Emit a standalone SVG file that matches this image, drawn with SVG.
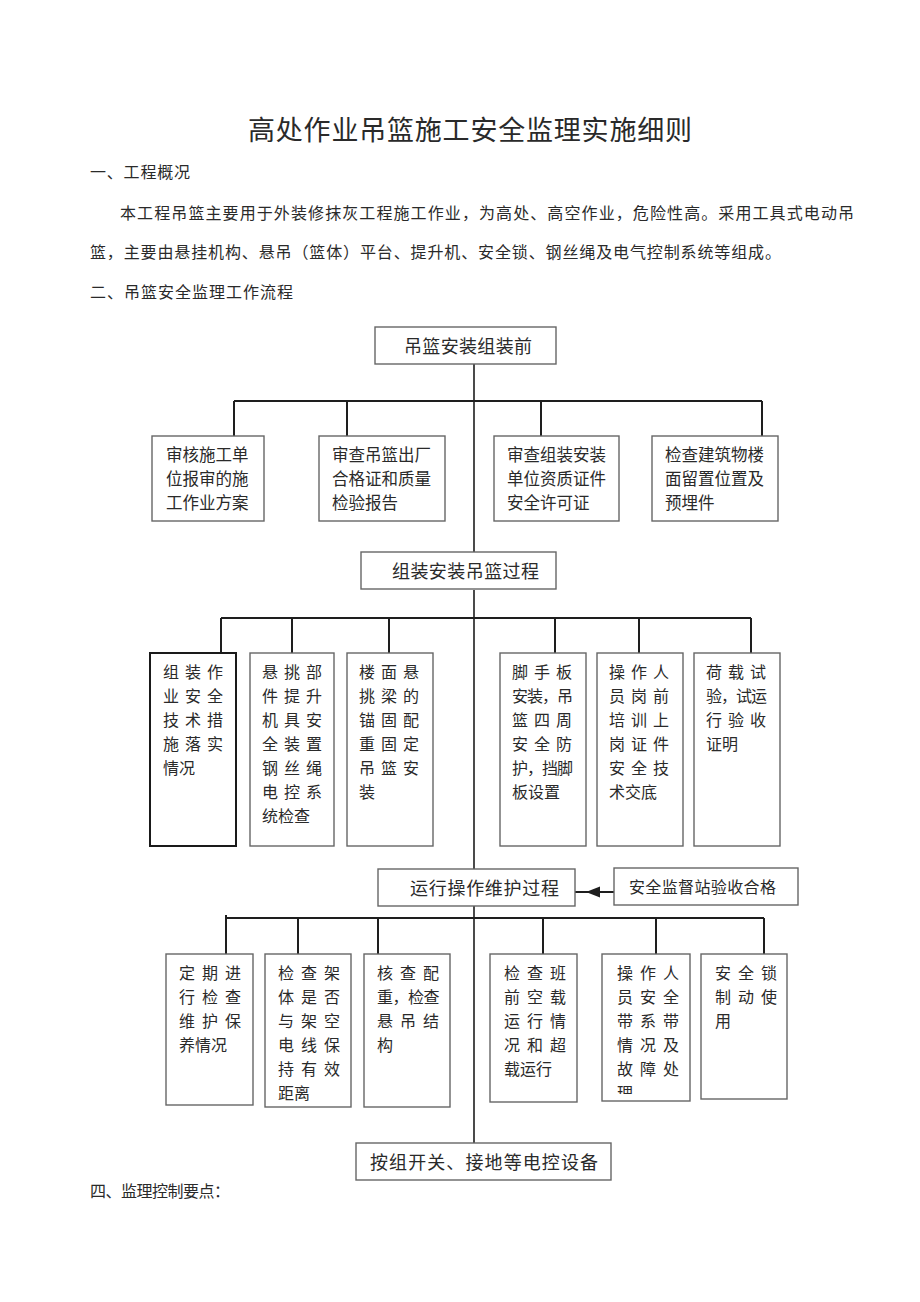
<svg xmlns="http://www.w3.org/2000/svg" width="920" height="1302" viewBox="0 0 920 1302">
<style>
text{font-family:"Noto Sans CJK SC","Noto Sans",sans-serif;fill:#2a2a2a;}
.title{font-size:27px;}
.body{font-size:16px;}
.box{fill:#fff;stroke:#666;stroke-width:1.4;}
.boxd{fill:#fff;stroke:#1a1a1a;stroke-width:2;}
.head{font-size:18px;}
.t17{font-size:16.5px;}
.t16{font-size:16px;}
.ln{stroke:#1e1e1e;stroke-width:2;fill:none;}
.tr{stroke:#1e1e1e;stroke-width:1.6;fill:none;}
</style>
<defs>
<clipPath id="clip5"><rect x="602" y="954" width="88" height="140"/></clipPath>
</defs>
<rect width="920" height="1302" fill="#fff"/>
<text class="title" x="248" y="140" textLength="444">高处作业吊篮施工安全监理实施细则</text>
<text class="body" x="90" y="178" textLength="100">一、工程概况</text>
<text class="body" x="120" y="219" textLength="734">本工程吊篮主要用于外装修抹灰工程施工作业，为高处、高空作业，危险性高。采用工具式电动吊</text>
<text class="body" x="90" y="258" textLength="691">篮，主要由悬挂机构、悬吊（篮体）平台、提升机、安全锁、钢丝绳及电气控制系统等组成。</text>
<text class="body" x="90" y="298" textLength="203">二、吊篮安全监理工作流程</text>

<g id="connectors">
<path class="tr" d="M474 364V553M474 590V869M474 906V1143"/>
<path class="ln" d="M234 401H762M234 401V436M347 401V436M541 401V436M762 401V436"/>
<path class="ln" d="M221 618H751M221 618V653M292 618V653M389 618V653M555 618V653M639 618V653M751 618V653"/>
<path class="ln" d="M226 918H764M226 915V954M298 918V954M378 918V954M543 918V954M656 918V954M764 918V954"/>
<path class="ln" d="M614 892H575"/>
<polygon points="586,892 600,886.5 600,897.5" fill="#1e1e1e"/>
</g>

<g id="n-before">
<rect class="box" x="375" y="327" width="181" height="37"/>
<text class="head" x="404" y="353" textLength="128">吊篮安装组装前</text>
</g>
<g id="n-r1a">
<rect class="box" x="152" y="436" width="112" height="85"/>
<text class="t17" x="166" y="461">审核施工单</text>
<text class="t17" x="166" y="485">位报审的施</text>
<text class="t17" x="166" y="509">工作业方案</text>
</g>
<g id="n-r1b">
<rect class="box" x="319" y="436" width="126" height="85"/>
<text class="t17" x="332" y="461">审查吊篮出厂</text>
<text class="t17" x="332" y="485">合格证和质量</text>
<text class="t17" x="332" y="509">检验报告</text>
</g>
<g id="n-r1c">
<rect class="box" x="494" y="436" width="125" height="85"/>
<text class="t17" x="507" y="461">审查组装安装</text>
<text class="t17" x="507" y="485">单位资质证件</text>
<text class="t17" x="507" y="509">安全许可证</text>
</g>
<g id="n-r1d">
<rect class="box" x="652" y="436" width="126" height="85"/>
<text class="t17" x="665" y="461">检查建筑物楼</text>
<text class="t17" x="665" y="485">面留置位置及</text>
<text class="t17" x="665" y="509">预埋件</text>
</g>

<g id="n-assemble">
<rect class="box" x="361" y="552" width="195" height="37"/>
<text class="head" x="392" y="578" textLength="147">组装安装吊篮过程</text>
</g>
<g id="n-r2a">
<rect class="boxd" x="150" y="653" width="86" height="193"/>
<text class="t16" x="163 185 207" y="678">组装作</text>
<text class="t16" x="163 185 207" y="702">业安全</text>
<text class="t16" x="163 185 207" y="726">技术措</text>
<text class="t16" x="163 185 207" y="750">施落实</text>
<text class="t16" x="163 179" y="774">情况</text>
</g>
<g id="n-r2b">
<rect class="box" x="250" y="653" width="84" height="193"/>
<text class="t16" x="262 284 306" y="678">悬挑部</text>
<text class="t16" x="262 284 306" y="702">件提升</text>
<text class="t16" x="262 284 306" y="726">机具安</text>
<text class="t16" x="262 284 306" y="750">全装置</text>
<text class="t16" x="262 284 306" y="774">钢丝绳</text>
<text class="t16" x="262 284 306" y="798">电控系</text>
<text class="t16" x="262 278 294" y="822">统检查</text>
</g>
<g id="n-r2c">
<rect class="box" x="347" y="653" width="86" height="193"/>
<text class="t16" x="359 381 403" y="678">楼面悬</text>
<text class="t16" x="359 381 403" y="702">挑梁的</text>
<text class="t16" x="359 381 403" y="726">锚固配</text>
<text class="t16" x="359 381 403" y="750">重固定</text>
<text class="t16" x="359 381 403" y="774">吊篮安</text>
<text class="t16" x="359" y="798">装</text>
</g>
<g id="n-r2d">
<rect class="box" x="500" y="653" width="86" height="193"/>
<text class="t16" x="512 534 556" y="678">脚手板</text>
<text class="t16" x="512 527 542 557" y="702">安装，吊</text>
<text class="t16" x="512 534 556" y="726">篮四周</text>
<text class="t16" x="512 534 556" y="750">安全防</text>
<text class="t16" x="512 527 542 557" y="774">护，挡脚</text>
<text class="t16" x="512 528 544" y="798">板设置</text>
</g>
<g id="n-r2e">
<rect class="box" x="597" y="653" width="86" height="193"/>
<text class="t16" x="609 631 653" y="678">操作人</text>
<text class="t16" x="609 631 653" y="702">员岗前</text>
<text class="t16" x="609 631 653" y="726">培训上</text>
<text class="t16" x="609 631 653" y="750">岗证件</text>
<text class="t16" x="609 631 653" y="774">安全技</text>
<text class="t16" x="609 625 641" y="798">术交底</text>
</g>
<g id="n-r2f">
<rect class="box" x="694" y="653" width="86" height="193"/>
<text class="t16" x="706 728 750" y="678">荷载试</text>
<text class="t16" x="706 721 736 751" y="702">验，试运</text>
<text class="t16" x="706 728 750" y="726">行验收</text>
<text class="t16" x="706 722" y="750">证明</text>
</g>

<g id="n-operate">
<rect class="box" x="378" y="869" width="197" height="37"/>
<text class="head" x="410" y="895" textLength="149">运行操作维护过程</text>
</g>
<g id="n-station">
<rect class="box" x="614" y="868" width="184" height="37"/>
<text class="t16" x="629" y="893" textLength="147">安全监督站验收合格</text>
</g>
<g id="n-r3a">
<rect class="box" x="166" y="954" width="87" height="151"/>
<text class="t16" x="179 202 225" y="979">定期进</text>
<text class="t16" x="179 202 225" y="1003">行检查</text>
<text class="t16" x="179 202 225" y="1027">维护保</text>
<text class="t16" x="179 195 211" y="1051">养情况</text>
</g>
<g id="n-r3b">
<rect class="box" x="265" y="954" width="86" height="153"/>
<text class="t16" x="278 301 324" y="979">检查架</text>
<text class="t16" x="278 301 324" y="1003">体是否</text>
<text class="t16" x="278 301 324" y="1027">与架空</text>
<text class="t16" x="278 301 324" y="1051">电线保</text>
<text class="t16" x="278 301 324" y="1075">持有效</text>
<text class="t16" x="278 294" y="1099">距离</text>
</g>
<g id="n-r3c">
<rect class="box" x="364" y="954" width="86" height="153"/>
<text class="t16" x="377 400 423" y="979">核查配</text>
<text class="t16" x="377 392.5 408 423.5" y="1003">重，检查</text>
<text class="t16" x="377 400 423" y="1027">悬吊结</text>
<text class="t16" x="377" y="1051">构</text>
</g>
<g id="n-r3d">
<rect class="box" x="490" y="954" width="87" height="148"/>
<text class="t16" x="504 527 550" y="979">检查班</text>
<text class="t16" x="504 527 550" y="1003">前空载</text>
<text class="t16" x="504 527 550" y="1027">运行情</text>
<text class="t16" x="504 527 550" y="1051">况和超</text>
<text class="t16" x="504 520 536" y="1075">载运行</text>
</g>
<g id="n-r3e">
<rect class="box" x="602" y="954" width="88" height="147"/>
<text class="t16" x="617 640 663" y="979">操作人</text>
<text class="t16" x="617 640 663" y="1003">员安全</text>
<text class="t16" x="617 640 663" y="1027">带系带</text>
<text class="t16" x="617 640 663" y="1051">情况及</text>
<text class="t16" x="617 640 663" y="1075">故障处</text>
<text class="t16" x="617" y="1099" clip-path="url(#clip5)">理</text>
</g>
<g id="n-r3f">
<rect class="box" x="701" y="954" width="86" height="145"/>
<text class="t16" x="715 738 761" y="979">安全锁</text>
<text class="t16" x="715 738 761" y="1003">制动使</text>
<text class="t16" x="715" y="1027">用</text>
</g>

<g id="n-bottom">
<rect class="box" x="356" y="1143" width="255" height="37"/>
<text class="head" x="370" y="1169" textLength="228">按组开关、接地等电控设备</text>
</g>

<text class="body" x="90" y="1197" textLength="140">四、监理控制要点：</text>
</svg>
